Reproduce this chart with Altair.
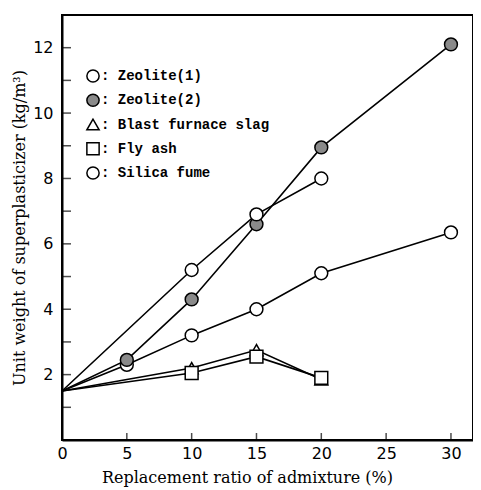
import altair as alt
import pandas as pd

# ---- data ----
series_names = ["Zeolite(1)", "Zeolite(2)", "Blast furnace slag", "Fly ash", "Silica fume"]

zeolite1_x = [0, 5, 10, 15, 20, 30]
zeolite1_y = [1.5, 2.3, 3.2, 4.0, 5.1, 6.35]

zeolite2_x = [0, 5, 10, 15, 20, 30]
zeolite2_y = [1.5, 2.45, 4.3, 6.6, 8.95, 12.1]

slag_x = [0, 10, 15, 20]
slag_y = [1.5, 2.2, 2.75, 1.85]

flyash_x = [0, 10, 15, 20]
flyash_y = [1.5, 2.05, 2.55, 1.9]

silica_x = [0, 10, 15, 20]
silica_y = [1.5, 5.2, 6.9, 8.0]

x_label_values = [0, 5, 10, 15, 20, 25, 30]
x_tick_values = [5, 10, 15, 20, 25, 30]
y_label_values = [2, 4, 6, 8, 10, 12]
y_tick_values = [1, 2, 3, 4, 5, 6, 7, 8, 9, 10, 11, 12]

shape_range = ["circle", "circle", "triangle-up", "square", "circle"]
fill_range = ["white", "#8a8a8a", "white", "white", "white"]

# ---- build tables ----
rows = []
for name, xs_, ys_ in zip(series_names,
                          [zeolite1_x, zeolite2_x, slag_x, flyash_x, silica_x],
                          [zeolite1_y, zeolite2_y, slag_y, flyash_y, silica_y]):
    for xv, yv in zip(xs_, ys_):
        rows.append({"series": name, "x": xv, "y": yv})
df = pd.DataFrame(rows)
legend_df = pd.DataFrame({"series": series_names,
                          "label": [": " + n for n in series_names]})

W, H = 411, 425
xscale = alt.Scale(domain=[0, 31.7], nice=False, zero=False)
yscale = alt.Scale(domain=[0, 13], nice=False, zero=False)
shape_scale = alt.Scale(domain=series_names, range=shape_range)
fill_scale = alt.Scale(domain=series_names, range=fill_range)

num_font = "DejaVu Sans"
title_font = "DejaVu Serif"
x_axis = alt.Axis(values=x_label_values, ticks=False, grid=False, domainColor="black",
                  domainWidth=2, labelFont=num_font, labelFontSize=16, labelColor="black",
                  labelPadding=5, title="Replacement ratio of admixture (%)",
                  titleFont=title_font, titleFontSize=16, titleFontWeight="normal",
                  titleColor="black", titlePadding=8, titleX=185, labelFlush=False)
y_axis = alt.Axis(values=y_label_values, ticks=False, grid=False, domainColor="black",
                  domainWidth=2, labelFont=num_font, labelFontSize=16, labelColor="black",
                  labelPadding=9, title="Unit weight of superplasticizer (kg/m³)",
                  titleFont=title_font, titleFontSize=16, titleFontWeight="normal",
                  titleColor="black", titlePadding=5)

x_enc = alt.X("x:Q", scale=xscale, axis=x_axis)
y_enc = alt.Y("y:Q", scale=yscale, axis=y_axis)

lines = alt.Chart(df).mark_line(color="black", strokeWidth=1.6).encode(
    x=x_enc, y=y_enc, detail="series:N", order="x:Q")

points = alt.Chart(df).transform_filter("datum.x > 0").mark_point(
    filled=True, stroke="black", strokeWidth=1.5, size=165, opacity=1).encode(
    x=x_enc, y=y_enc,
    shape=alt.Shape("series:N", scale=shape_scale, legend=None),
    fill=alt.Fill("series:N", scale=fill_scale, legend=None),
)

xt = alt.Chart(pd.DataFrame({"x": x_tick_values})).mark_tick(
    orient="vertical", size=7, thickness=1.5, color="black").encode(
    x=x_enc, y=alt.value(H - 3.5))
yt = alt.Chart(pd.DataFrame({"y": y_tick_values})).mark_tick(
    orient="horizontal", size=9, thickness=1.5, color="black").encode(
    y=y_enc, x=alt.value(4.5))

main = alt.layer(lines, points, xt, yt)

# ---- in-plot legend ----
leg_y = alt.Y("series:N", scale=alt.Scale(type="point", domain=series_names,
                                          range=[61, 158], padding=0), axis=None)
leg_pts = alt.Chart(legend_df).mark_point(
    filled=True, stroke="black", strokeWidth=1.5, size=150, opacity=1).encode(
    x=alt.value(31), y=leg_y,
    shape=alt.Shape("series:N", scale=shape_scale, legend=None),
    fill=alt.Fill("series:N", scale=fill_scale, legend=None),
)
leg_txt = alt.Chart(legend_df).mark_text(
    align="left", baseline="middle", font="Liberation Mono", fontSize=14,
    fontWeight="bold", color="black").encode(
    x=alt.value(39), y=leg_y, text="label:N")
leg = alt.layer(leg_pts, leg_txt)

chart = alt.layer(main, leg).resolve_scale(y="independent").properties(
    width=W, height=H, autosize="none",
    padding={"left": 54, "top": 7, "right": 0, "bottom": 50},
    background="white",
).configure_view(stroke="black", strokeWidth=2)

chart.save("out.html", embed_options={"renderer": "svg", "actions": False})
